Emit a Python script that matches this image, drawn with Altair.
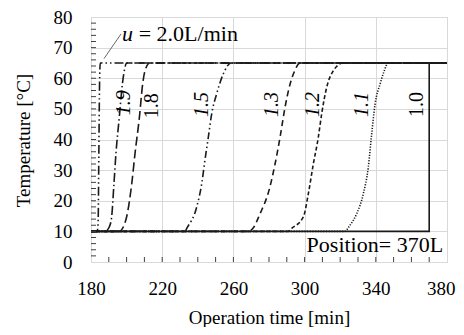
import altair as alt
import pandas as pd

# ---- data ----
flows = ["2.0", "1.9", "1.8", "1.5", "1.3", "1.2", "1.1"]
t_20 = [180, 183.5, 184.0, 184.4, 184.8, 185.2, 380]
T_20 = [10, 10, 13, 35, 58, 65, 65]
t_19 = [180, 188.0, 190.3, 191.6, 192.9, 194.0, 195.9, 197.6, 198.7, 200.0, 380]
T_19 = [10, 10, 11.5, 14.7, 25.6, 35.3, 47.3, 58.0, 62.4, 65, 65]
t_18 = [180, 196.0, 198.2, 200.0, 202.9, 204.7, 207.2, 209.0, 210.3, 213.0, 380]
T_18 = [10, 10, 11.5, 14.7, 25.6, 35.3, 47.3, 58.0, 62.4, 65, 65]
t_15 = [180, 232.8, 233.8, 239.4, 242.2, 244.0, 245.9, 247.8, 250.6, 254.3, 258.7, 380]
T_15 = [10, 10, 11, 18, 25.6, 33.2, 40.7, 48.4, 54.9, 61.4, 65, 65]
t_13 = [180, 268.5, 271.0, 275.0, 280.0, 283.4, 286.2, 289.0, 291.8, 294.5, 297.5, 380]
T_13 = [10, 10, 11, 15.8, 23.4, 32, 40.7, 50.5, 58, 62.5, 65, 65]
t_12 = [180, 290.5, 292.7, 299.3, 302.1, 304.9, 307.7, 309.6, 312.4, 316.1, 321.7, 380]
T_12 = [10, 10, 11, 14.7, 22.3, 32, 40.7, 48.4, 57, 62.4, 65, 65]
t_11 = [180, 322.5, 325.5, 329.3, 333.0, 335.8, 337.7, 339.6, 342.4, 344.5, 347.0, 380]
T_11 = [10, 10, 12, 15.8, 22.3, 31, 41.9, 51.6, 58.1, 62, 65, 65]
t_10 = [180, 370, 370, 380]
T_10 = [10, 10, 65, 65]

x_ticks = [180, 220, 260, 300, 340, 380]
y_ticks = [0, 10, 20, 30, 40, 50, 60, 70, 80]

label_text = ["1.9", "1.8", "1.5", "1.3", "1.2", "1.1", "1.0"]
label_t = [198.5, 214.1, 242.2, 281.5, 304.9, 332.1, 363.0]
label_T = [52.0, 51.0, 51.4, 51.4, 51.4, 51.4, 51.4]
label_italic = [True, False, True, True, True, True, False]

leader_t = [187.3, 196.9]
leader_T = [66.4, 74.5]
note_u_t, note_u_T = 197.4, 74.4
note_rest_t = 206.8
pos_t, pos_T = 377.8, 3.3

y_minor = list(range(2, 80, 2))
x_minor = list(range(190, 380, 10))

FONT = "Liberation Serif"
W, H = 356, 245

rows = []
for name, ts, Ts in zip(flows, [t_20, t_19, t_18, t_15, t_13, t_12, t_11],
                        [T_20, T_19, T_18, T_15, T_13, T_12, T_11]):
    for i, (a, b) in enumerate(zip(ts, Ts)):
        rows.append({"u": name, "i": i, "t": a, "T": b})
curves = pd.DataFrame(rows)
solid = pd.DataFrame({"t": t_10, "T": T_10, "i": list(range(len(t_10)))})
labels = pd.DataFrame({"lab": label_text, "t": label_t, "T": label_T, "it": label_italic})

xs = alt.Scale(domain=[180, 380], nice=False, zero=False)
ys = alt.Scale(domain=[0, 80], nice=False, zero=False)

last_x = x_ticks[-1]
X_AX = alt.Axis(
    title="Operation time [min]", values=x_ticks,
    ticks=False, labelPadding=17, labelOverlap=False, labelFlush=False,
    labelAlign={"condition": {"test": f"datum.value === {last_x}", "value": "right"}, "value": "center"},
    labelOffset={"condition": {"test": f"datum.value === {last_x}", "value": 8}, "value": 0},
    gridColor="#d9d9d9", grid=True,
    labelFont=FONT, labelFontSize=19, labelColor="black",
    titleFont=FONT, titleFontSize=19, titleFontWeight="normal", titleColor="black",
    titleY=55, titleBaseline="middle", domain=False)
Y_AX = alt.Axis(
    title="Temperature [°C]", values=y_ticks,
    ticks=False, labelPadding=19, labelOverlap=False, labelFlush=False,
    gridColor="#d9d9d9", grid=True,
    labelFont=FONT, labelFontSize=19, labelColor="black",
    titleFont=FONT, titleFontSize=19, titleFontWeight="normal", titleColor="black",
    titleX=-68, titleY=123, titleAngle=270, titleBaseline="middle", domain=False)


def X(f):
    return alt.X(f, scale=xs, axis=X_AX)


def Y(f):
    return alt.Y(f, scale=ys, axis=Y_AX)


dash_range = [[9, 3, 1.5, 3, 1.5, 3], [9, 3, 1.5, 3], [9, 4], [7, 3, 1.5, 3, 1.5, 3],
              [6, 4], [4, 2.5], [1.2, 1.5]]

base = alt.Chart(curves).mark_line(color="#1a1a1a", strokeWidth=1.6, interpolate="monotone").encode(
    x=X("t:Q"), y=Y("T:Q"),
    strokeDash=alt.StrokeDash("u:N", scale=alt.Scale(domain=flows, range=dash_range), legend=None),
    detail="u:N",
    order="i:Q",
)

solid_line = alt.Chart(solid).mark_line(color="#1a1a1a", strokeWidth=1.6).encode(
    x=X("t:Q"), y=Y("T:Q"), order="i:Q")

ytick = alt.Chart(pd.DataFrame({"v": y_minor})).mark_rule(color="#404040", strokeWidth=1).encode(
    y=Y("v:Q"), x=alt.value(0), x2=alt.value(5))
xtick = alt.Chart(pd.DataFrame({"v": x_minor})).mark_rule(color="#404040", strokeWidth=1).encode(
    x=X("v:Q"), y=alt.value(H), y2=alt.value(H - 5))

lab_it = alt.Chart(labels).transform_filter("datum.it").mark_text(
    font=FONT, fontSize=20, fontStyle="italic", angle=270, color="black",
    align="center", baseline="middle").encode(
    x=X("t:Q"), y=Y("T:Q"), text="lab:N")
lab_up = alt.Chart(labels).transform_filter("!datum.it").mark_text(
    font=FONT, fontSize=20, angle=270, color="black",
    align="center", baseline="middle").encode(
    x=X("t:Q"), y=Y("T:Q"), text="lab:N")

leader = alt.Chart(pd.DataFrame({"t": [leader_t[0]], "t2": [leader_t[1]],
                                 "T": [leader_T[0]], "T2": [leader_T[1]]})).mark_rule(
    color="#555555", strokeWidth=0.9).encode(
    x=X("t:Q"), x2="t2:Q", y=Y("T:Q"), y2="T2:Q")

note_u = alt.Chart(pd.DataFrame({"t": [note_u_t], "T": [note_u_T], "s": ["u"]})).mark_text(
    font=FONT, fontSize=22, fontStyle="italic", align="left", baseline="middle", color="black").encode(
    x=X("t:Q"), y=Y("T:Q"), text="s:N")
note_rest = alt.Chart(pd.DataFrame({"t": [note_rest_t], "T": [note_u_T], "s": ["= 2.0L/min"]})).mark_text(
    font=FONT, fontSize=22, align="left", baseline="middle", color="black").encode(
    x=X("t:Q"), y=Y("T:Q"), text="s:N")
note_pos = alt.Chart(pd.DataFrame({"t": [pos_t], "T": [pos_T], "s": ["Position= 370L"]})).mark_text(
    font=FONT, fontSize=22, align="right", baseline="alphabetic", color="black").encode(
    x=X("t:Q"), y=Y("T:Q"), text="s:N")

chart = alt.layer(base, solid_line, ytick, xtick, lab_it, lab_up, leader, note_u, note_rest, note_pos).properties(
    width=W, height=H,
    autosize=alt.AutoSizeParams(type="none"),
    padding={"left": 83, "top": 9, "right": 9, "bottom": 65},
).configure_view(stroke="#404040", strokeWidth=1.2).configure(background="white")

chart.save("out.html", embed_options={"renderer": "svg", "actions": False})
